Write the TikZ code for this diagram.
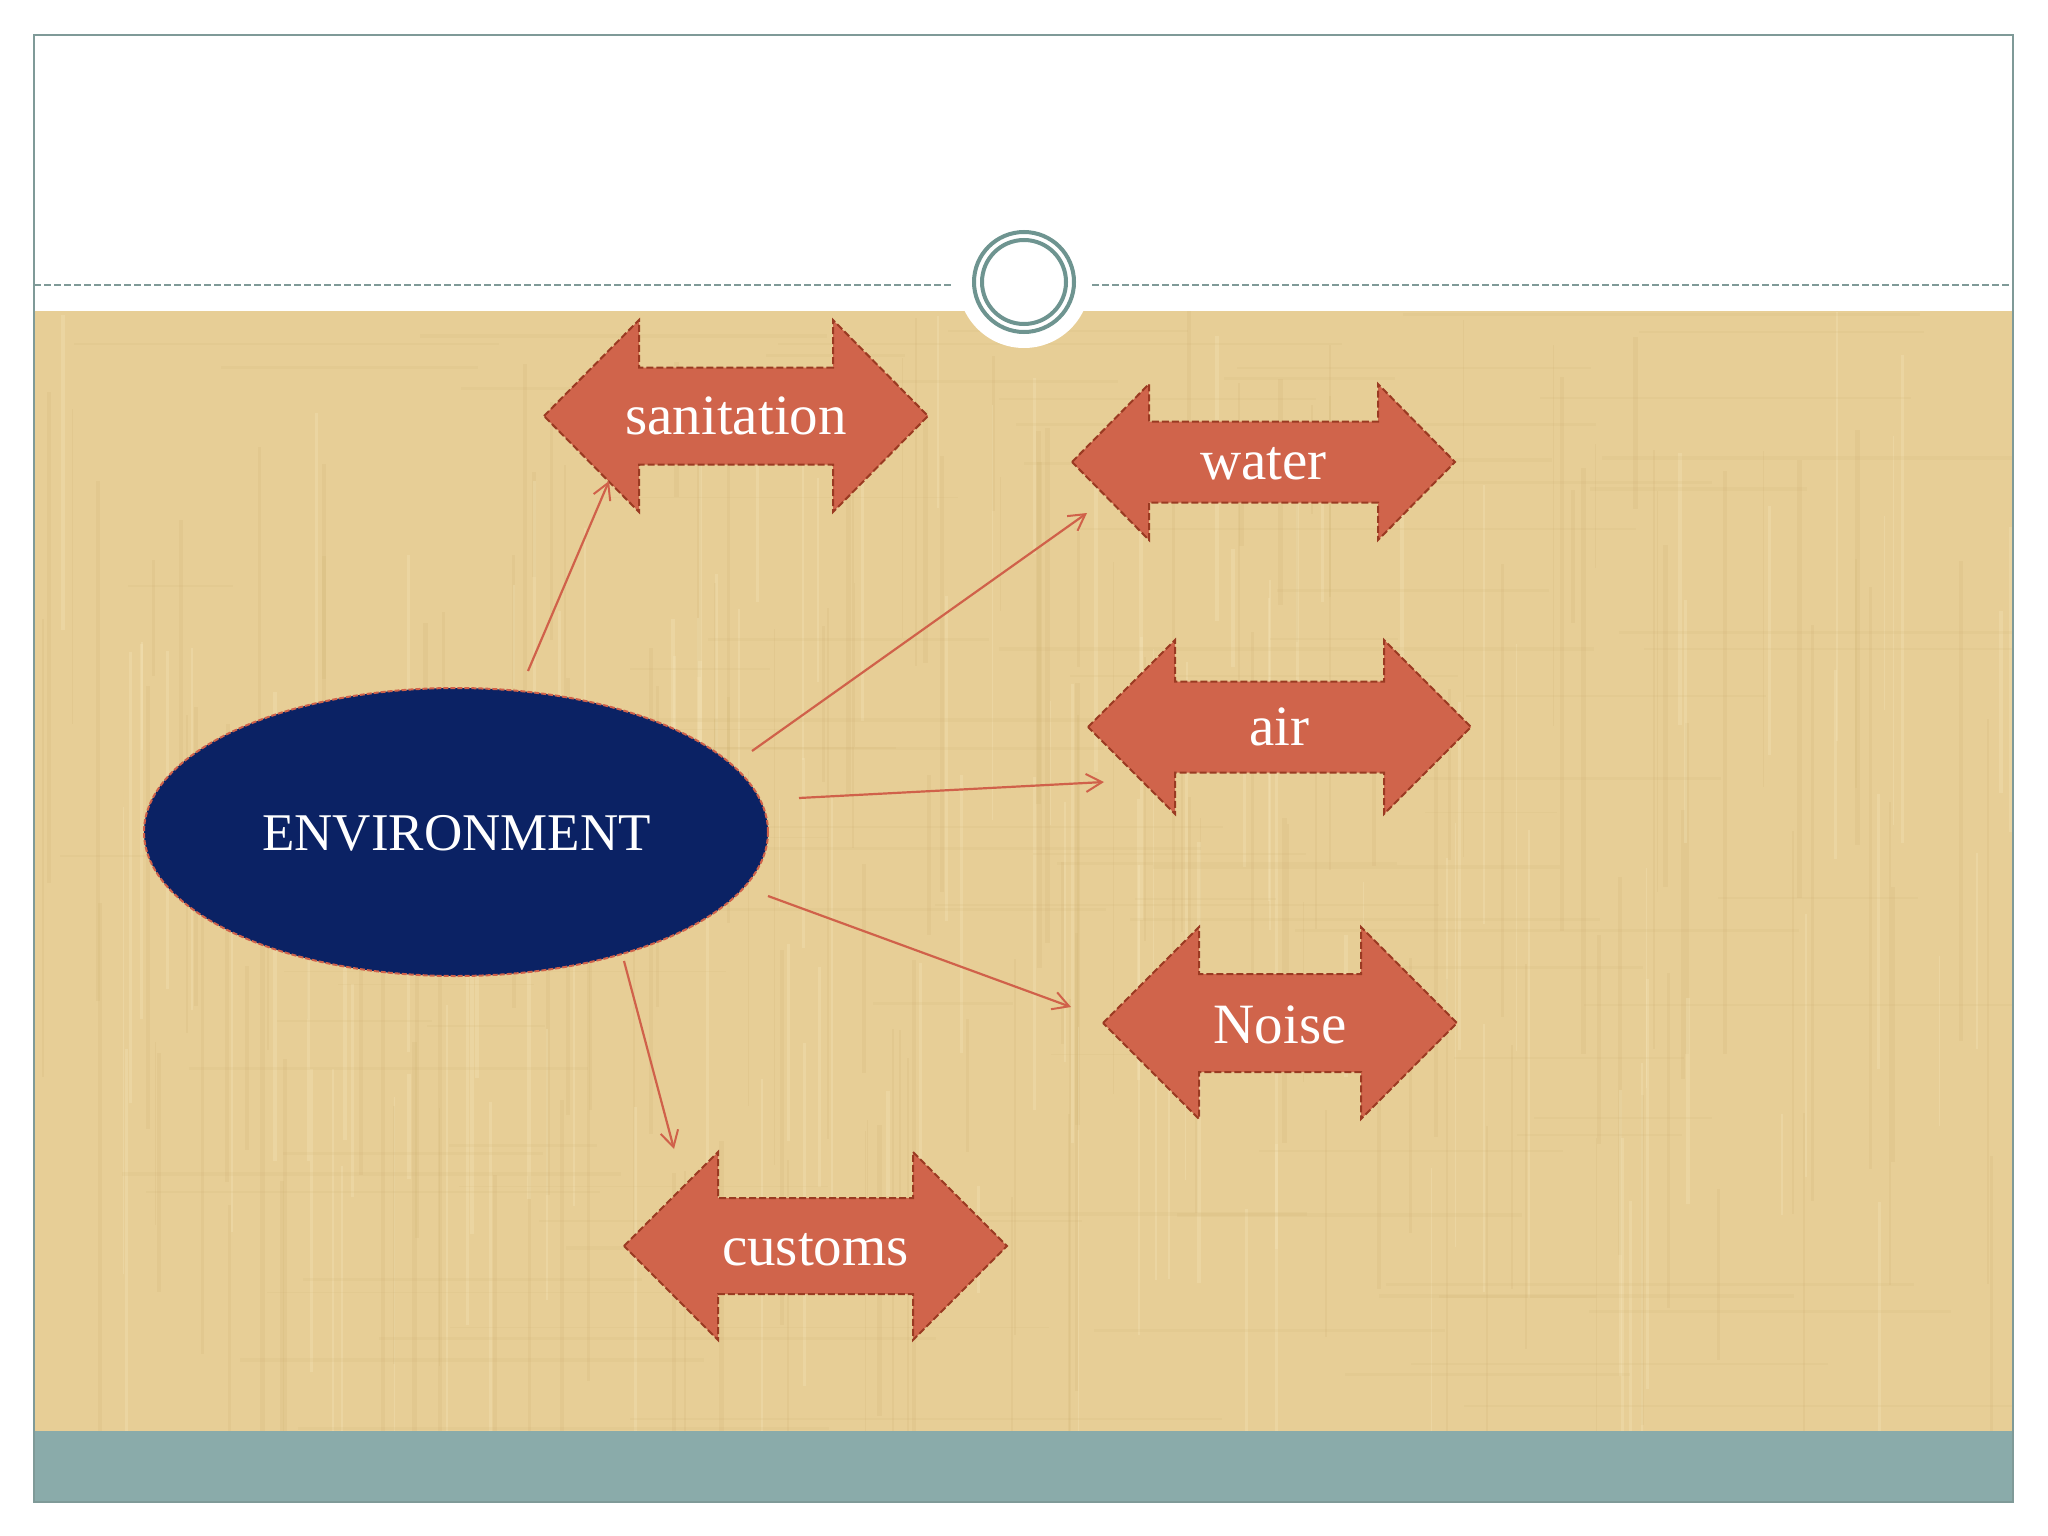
\documentclass[tikz,border=0pt]{standalone}
\usepackage{fontspec}
\setmainfont{Liberation Serif}
\usetikzlibrary{shapes.geometric,arrows.meta}
\definecolor{paper}{HTML}{E7CE96}
\definecolor{paperdark}{HTML}{CFB273}
\definecolor{paperlight}{HTML}{F5E6BC}
\definecolor{barcol}{HTML}{8AABAA}
\definecolor{framecol}{HTML}{7F9A98}
\definecolor{ringcol}{HTML}{6E9490}
\definecolor{arrfill}{HTML}{D0644B}
\definecolor{arrdash}{HTML}{9A3A22}
\definecolor{navy}{HTML}{0B2264}
\definecolor{linkcol}{HTML}{D0614A}
\tikzset{
  shapeborder/.style={draw=arrdash, line width=2pt, dash pattern=on 7pt off 3pt},
  labeltext/.style={text=white, font=\fontsize{57}{60}\selectfont, inner sep=0pt, anchor=base},
  link/.style={draw=linkcol, line width=2.2pt, -{Straight Barb[length=16pt,width=18pt,line width=2pt]}},
}
% #1 name, #2 cx, #3 cy, #4 half length, #5 head length, #6 head half-height,
% #7 shaft half-height, #8 text baseline y, #9 text
\newcommand\dbarrow[9]{%
  \filldraw[fill=arrfill, shapeborder]
    ({#2-#4},#3) -- ({#2-#4+#5},{#3-#6}) -- ({#2-#4+#5},{#3-#7}) --
    ({#2+#4-#5},{#3-#7}) -- ({#2+#4-#5},{#3-#6}) -- ({#2+#4},#3) --
    ({#2+#4-#5},{#3+#6}) -- ({#2+#4-#5},{#3+#7}) --
    ({#2-#4+#5},{#3+#7}) -- ({#2-#4+#5},{#3+#6}) -- cycle;
  \node[labeltext] (#1) at (#2,#8) {#9};
}
\begin{document}
\begin{tikzpicture}[x=1pt,y=-1pt]
\useasboundingbox (0,0) rectangle (2048,1536);
\fill[white] (0,0) rectangle (2048,1536);
% textured paper area
\fill[paper] (34,311) rectangle (2013,1431);
\begin{scope}
  \clip (34,311) rectangle (2013,1431);
  \pgfmathsetseed{7}
  \foreach \i in {1,...,160} {
    \pgfmathsetmacro\xx{34+rnd*1979}
    \pgfmathsetmacro\ww{1+rnd*4}
    \pgfmathsetmacro\ya{311+rnd*900}
    \pgfmathsetmacro\yb{\ya+100+rnd*500}
    \fill[paperdark, opacity=0.18] (\xx,\ya) rectangle ({\xx+\ww},\yb);
  }
  \foreach \i in {1,...,120} {
    \pgfmathsetmacro\xx{34+rnd*1979}
    \pgfmathsetmacro\ww{1+rnd*3}
    \pgfmathsetmacro\ya{311+rnd*900}
    \pgfmathsetmacro\yb{\ya+100+rnd*400}
    \fill[paperlight, opacity=0.3] (\xx,\ya) rectangle ({\xx+\ww},\yb);
  }
  \foreach \i in {1,...,90} {
    \pgfmathsetmacro\yy{311+rnd*1120}
    \pgfmathsetmacro\hh{1+rnd*3}
    \pgfmathsetmacro\xa{34+rnd*1700}
    \pgfmathsetmacro\xb{\xa+100+rnd*500}
    \fill[paperdark, opacity=0.14] (\xa,\yy) rectangle (\xb,{\yy+\hh});
  }
\end{scope}
% bottom bar
\fill[barcol] (34,1431) rectangle (2013,1502);
% frame
\draw[framecol, line width=2pt] (34,35) rectangle (2013,1502);
% dashed divider
\draw[framecol, line width=2pt, dash pattern=on 7pt off 3pt] (34,285) -- (953,285);
\draw[framecol, line width=2pt, dash pattern=on 7pt off 3pt] (1092,285) -- (2013,285);
% white bump and rings
\fill[white] (1024,282) circle (66);
\draw[ringcol, line width=4pt] (1024,282) circle (50);
\draw[ringcol, line width=4pt] (1024,282) circle (42);

% central ellipse
\node[ellipse, fill=navy, draw=linkcol, line width=2pt, dash pattern=on 5pt off 2pt,
      minimum width=624pt, minimum height=288pt, inner sep=0pt] (env) at (456,832) {};
\node[text=white, font=\fontsize{53}{58}\selectfont, inner sep=0pt, anchor=base]
      (envtext) at (456.5,850) {ENVIRONMENT};

% double arrows
\dbarrow{sanit}{736}{416}{192}{95}{96}{48.5}{434}{sanitation}
\dbarrow{water}{1263.5}{462}{191.5}{77}{78}{40.5}{479}{water}
\dbarrow{air}{1279.5}{727}{191.5}{87}{87}{45.5}{745}{air}
\dbarrow{noise}{1280}{1023}{177}{96}{96}{49}{1043}{Noise}
\dbarrow{customs}{815.5}{1246}{191.5}{94}{94}{48}{1265}{customs}

% connector end points
\coordinate (s1) at (528,671);  \coordinate (e1) at (609,481);
\coordinate (s2) at (752,751);  \coordinate (e2) at (1087,513);
\coordinate (s3) at (799,798);  \coordinate (e3) at (1104,782);
\coordinate (s4) at (768,896);  \coordinate (e4) at (1071,1007);
\coordinate (s5) at (624,961);  \coordinate (e5) at (674,1149);

\draw[link] (s1) -- (e1);
\draw[link] (s2) -- (e2);
\draw[link] (s3) -- (e3);
\draw[link] (s4) -- (e4);
\draw[link] (s5) -- (e5);
\end{tikzpicture}
\end{document}
